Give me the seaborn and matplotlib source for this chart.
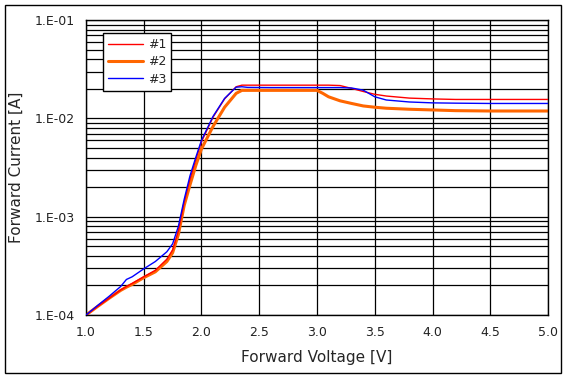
import numpy as np
import pandas as pd
import matplotlib
matplotlib.use("Agg")
import matplotlib.pyplot as plt
import matplotlib.ticker as mticker
from matplotlib.patches import Rectangle
import seaborn as sns

# forward voltage [V] and currents [A] for the three samples
voltage = [1.0, 1.1, 1.2, 1.3, 1.35, 1.4, 1.5, 1.6, 1.7, 1.75, 1.8, 1.85, 1.9, 1.95,
           2.0, 2.1, 2.2, 2.3, 2.35, 2.4, 2.6, 2.8, 3.0, 3.05, 3.1, 3.2, 3.3, 3.4,
           3.5, 3.6, 3.8, 4.0, 4.2, 4.5, 5.0]
current_1 = [1.0e-4, 1.22e-4, 1.48e-4, 1.8e-4, 1.95e-4, 2.1e-4, 2.45e-4, 2.85e-4, 3.7e-4,
             4.6e-4, 7.2e-4, 1.4e-3, 2.4e-3, 3.8e-3, 5.8e-3, 1.03e-2, 1.58e-2, 2.1e-2,
             2.18e-2, 2.18e-2, 2.18e-2, 2.18e-2, 2.18e-2, 2.18e-2, 2.18e-2, 2.16e-2,
             2.02e-2, 1.88e-2, 1.76e-2, 1.69e-2, 1.61e-2, 1.58e-2, 1.56e-2, 1.56e-2, 1.56e-2]
current_2 = [1.0e-4, 1.22e-4, 1.48e-4, 1.78e-4, 1.92e-4, 2.05e-4, 2.4e-4, 2.75e-4, 3.5e-4,
             4.3e-4, 6.6e-4, 1.3e-3, 2.1e-3, 3.3e-3, 4.9e-3, 8.3e-3, 1.3e-2, 1.8e-2,
             1.93e-2, 1.93e-2, 1.93e-2, 1.93e-2, 1.93e-2, 1.8e-2, 1.66e-2, 1.51e-2,
             1.42e-2, 1.34e-2, 1.3e-2, 1.27e-2, 1.24e-2, 1.22e-2, 1.2e-2, 1.19e-2, 1.19e-2]
current_3 = [1.0e-4, 1.25e-4, 1.55e-4, 1.95e-4, 2.3e-4, 2.45e-4, 2.95e-4, 3.5e-4, 4.4e-4,
             5.3e-4, 8.0e-4, 1.5e-3, 2.6e-3, 4.0e-3, 6.0e-3, 1.05e-2, 1.6e-2, 2.08e-2,
             2.1e-2, 2.07e-2, 2.06e-2, 2.06e-2, 2.06e-2, 2.06e-2, 2.06e-2, 2.06e-2,
             2.04e-2, 1.94e-2, 1.66e-2, 1.54e-2, 1.47e-2, 1.44e-2, 1.43e-2, 1.42e-2, 1.42e-2]
labels = ["#1", "#2", "#3"]

sns.set_style("white")
plt.rcParams["font.family"] = ["DejaVu Sans"]

fig = plt.figure(figsize=(5.68, 3.80), dpi=100)
ax = fig.add_axes([0.1514, 0.171, 0.8134, 0.776])

styles = {"#1": ("#ff0000", 1.0, 3), "#2": ("#ff6600", 2.2, 2), "#3": ("#0000ff", 1.0, 4)}
for lab, cur in zip(labels, [current_1, current_2, current_3]):
    df = pd.DataFrame({"V": voltage, "I": cur})
    color, lw, z = styles[lab]
    sns.lineplot(data=df, x="V", y="I", ax=ax, color=color, lw=lw, zorder=z, label=lab)

ax.set_yscale("log")
ax.set_xlim(1.0, 5.0)
ax.set_ylim(1e-4, 1e-1)
ax.xaxis.set_major_locator(mticker.MultipleLocator(0.5))
ax.xaxis.set_major_formatter(mticker.FormatStrFormatter("%.1f"))
ax.yaxis.set_major_locator(mticker.LogLocator(base=10, numticks=10))
ax.yaxis.set_minor_locator(mticker.LogLocator(base=10, subs=np.arange(2, 10), numticks=20))
ax.yaxis.set_minor_formatter(mticker.NullFormatter())
ax.yaxis.set_major_formatter(mticker.FuncFormatter(lambda v, p: "1.E-%02d" % round(-np.log10(v))))

ax.grid(True, which="major", color="black", lw=0.9)
ax.grid(True, which="minor", axis="y", color="black", lw=0.9)
ax.set_axisbelow(True)
for s in ax.spines.values():
    s.set_color("black")
    s.set_linewidth(1.0)
ax.tick_params(axis="both", which="major", direction="out", length=5, width=1,
               color="black", labelsize=9, labelcolor="#222222", pad=3)
ax.tick_params(axis="y", which="minor", direction="out", length=3, width=1, color="black")

ax.set_xlabel("Forward Voltage [V]", fontsize=11, labelpad=8)
ax.set_ylabel("Forward Current [A]", fontsize=11, labelpad=8)

leg = ax.legend(loc="upper left", bbox_to_anchor=(0.037, 0.956), borderaxespad=0,
                fancybox=False, framealpha=1, edgecolor="black", fontsize=9,
                handlelength=2.8, handletextpad=0.4, labelspacing=0.35)
leg.get_frame().set_linewidth(1.0)

fig.patches.append(Rectangle((5 / 568, 7 / 380), 556 / 568, 368 / 380, transform=fig.transFigure,
                             fill=False, edgecolor="black", lw=1.0))

fig.savefig("out.png", dpi=100)
